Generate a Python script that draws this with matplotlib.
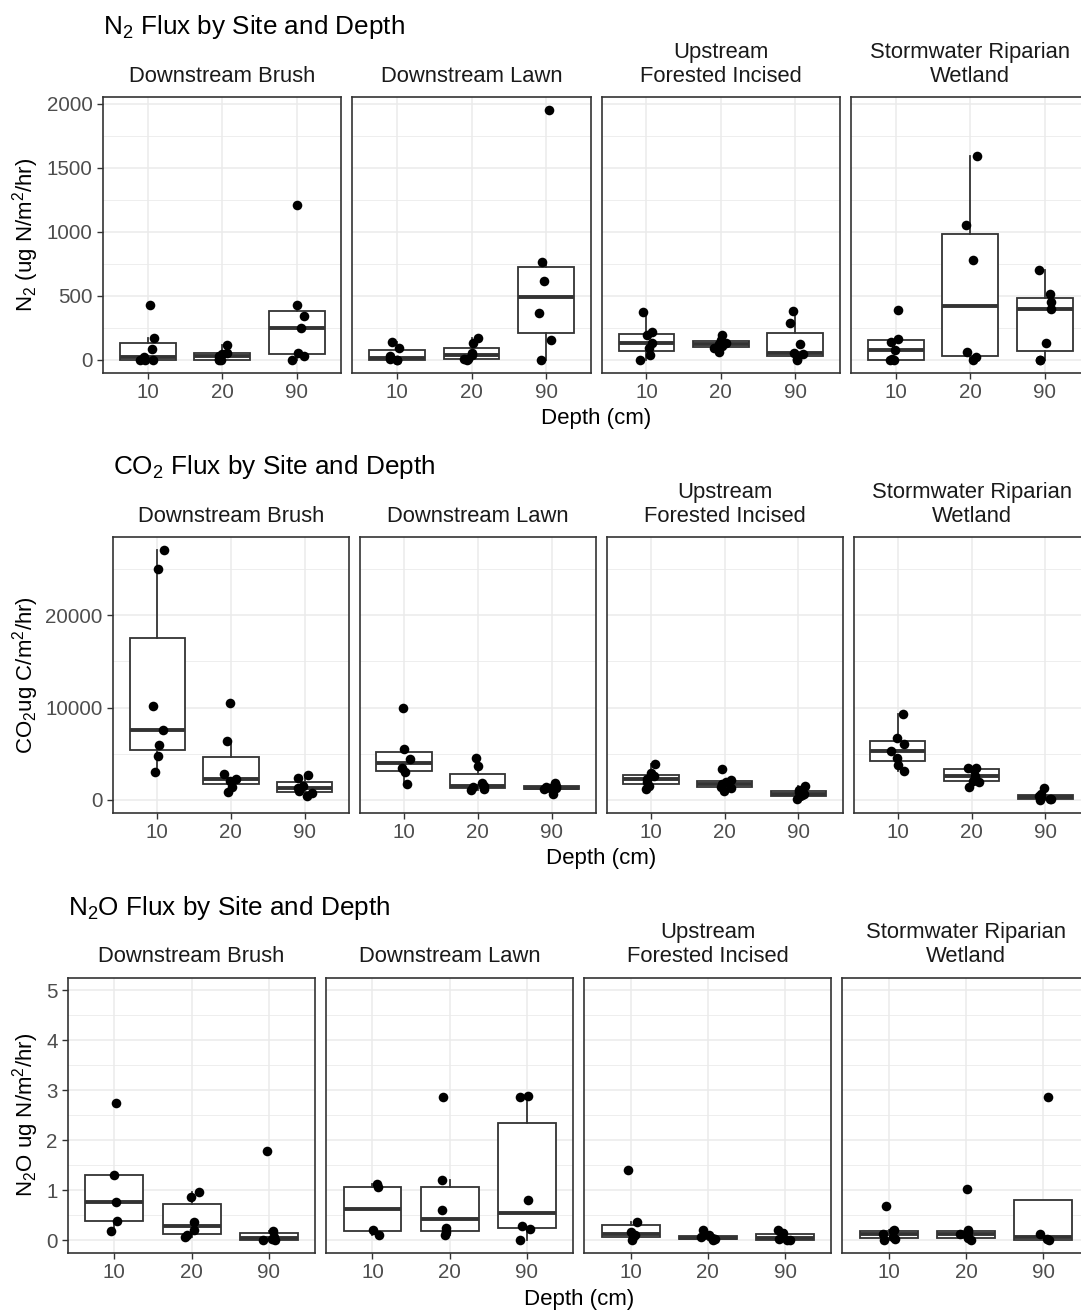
import numpy as np
import matplotlib.pyplot as plt

plt.rcParams['font.family'] = ['Liberation Sans', 'DejaVu Sans']
plt.rcParams['mathtext.default'] = 'regular'

sites = ["Downstream Brush", "Downstream Lawn",
         "Upstream\nForested Incised", "Stormwater Riparian\nWetland"]
depths = ["10", "20", "90"]

# N2 flux (ug N/m2/hr), one list per depth (10, 20, 90 cm)
n2_brush = [[430, 175, 89, 25, 3, 0, 0], [117, 57, 45, 30, 5, 0, 0],
            [1213, 430, 342, 248, 57, 31, 0]]
n2_lawn = [[143, 96, 30, 5, 0, 0], [175, 135, 57, 35, 10, 5, 0],
           [1956, 762, 618, 370, 156, 0]]
n2_upstream = [[376, 219, 193, 130, 96, 37, 0], [195, 155, 135, 125, 110, 95, 60],
               [383, 292, 123, 57, 45, 10, 0]]
n2_wetland = [[391, 167, 141, 78, 5, 0, 0], [1596, 1056, 782, 63, 20, 0],
              [704, 514, 449, 396, 136, 0, 0]]

# CO2 flux (ug C/m2/hr)
co2_brush = [[27128, 25030, 10128, 7596, 5968, 4775, 3074],
             [10489, 6438, 2785, 2279, 2100, 1447, 832],
             [2750, 2400, 1550, 1300, 1000, 800, 400]]
co2_lawn = [[9911, 5498, 4450, 3500, 3002, 1700],
            [4521, 3725, 1808, 1555, 1400, 1160, 1100],
            [1850, 1500, 1450, 1350, 1250, 1150, 700]]
co2_upstream = [[3870, 2894, 2604, 2243, 1990, 1555, 1157],
                [3364, 2170, 1917, 1700, 1447, 1266, 977],
                [1555, 1050, 850, 650, 500, 420, 72]]
co2_wetland = [[9332, 6691, 6040, 5317, 4594, 3798, 3183],
               [3500, 3436, 3300, 2604, 2098, 1917, 1447],
               [1338, 640, 450, 289, 100, 60, 0]]

# N2O flux (ug N/m2/hr)
n2o_brush = [[2.74, 1.31, 0.76, 0.385, 0.18], [0.96, 0.86, 0.365, 0.2, 0.1, 0.066],
             [1.79, 0.186, 0.06, 0.03, 0.005, 0.0]]
n2o_lawn = [[1.13, 1.06, 0.21, 0.1], [2.855, 1.21, 0.61, 0.245, 0.166, 0.1],
            [2.89, 2.855, 0.81, 0.285, 0.23, 0.01]]
n2o_upstream = [[1.41, 0.365, 0.166, 0.1, 0.06, 0.013], [0.2, 0.1, 0.06, 0.04, 0.02, 0.0],
                [0.21, 0.146, 0.07, 0.02, 0.0, 0.0]]
n2o_wetland = [[0.68, 0.2, 0.19, 0.12, 0.07, 0.03, 0.0], [1.03, 0.2, 0.17, 0.12, 0.06, 0.05, 0.0],
               [2.855, 0.13, 0.02, 0.0]]

W, H = 1081, 1310
fig = plt.figure(figsize=(W / 100, H / 100), dpi=100)

rows = [
    dict(title="N$_2$ Flux by Site and Depth", ylabel="N$_2$ (ug N/m$^2$/hr)",
         data=[n2_brush, n2_lawn, n2_upstream, n2_wetland], left=103, dy=0,
         ticks=[0, 500, 1000, 1500, 2000], minor=[250, 750, 1250, 1750], ylim=None),
    dict(title="CO$_2$ Flux by Site and Depth", ylabel="CO$_2$ug C/m$^2$/hr)",
         data=[co2_brush, co2_lawn, co2_upstream, co2_wetland], left=113, dy=440,
         ticks=[0, 10000, 20000], minor=[5000, 15000, 25000], ylim=None),
    dict(title="N$_2$O Flux by Site and Depth", ylabel="N$_2$O ug N/m$^2$/hr)",
         data=[n2o_brush, n2o_lawn, n2o_upstream, n2o_wetland], left=68, dy=880.5,
         ticks=[0, 1, 2, 3, 4, 5], minor=[0.5, 1.5, 2.5, 3.5, 4.5], ylim=(0, 5)),
]

right_edge = 1089.5
gap = 11
ptop, pbot = 97, 372.5
dark = '#333333'
grid_c = '#EBEBEB'
rng = np.random.default_rng(7)

for row in rows:
    left, dy = row['left'], row['dy']
    pw = (right_edge - left - 3 * gap) / 4
    ph = pbot - ptop
    if row['ylim'] is None:
        allv = [v for site in row['data'] for grp in site for v in grp]
        lo, hi = min(allv), max(allv)
    else:
        lo, hi = row['ylim']
    pad = 0.05 * (hi - lo)

    for i, (site, name) in enumerate(zip(row['data'], sites)):
        x0 = left + i * (pw + gap)
        ax = fig.add_axes([x0 / W, 1 - (dy + pbot) / H, pw / W, ph / H])
        ax.set_axisbelow(True)

        ax.boxplot(site, positions=[1, 2, 3], widths=0.75, whis=1.5,
                   showfliers=False, showcaps=False, patch_artist=True,
                   boxprops=dict(facecolor='white', edgecolor=dark, linewidth=1.3),
                   medianprops=dict(color=dark, linewidth=2.8),
                   whiskerprops=dict(color=dark, linewidth=1.3), zorder=2)
        for k, grp in enumerate(site):
            xs = k + 1 + rng.uniform(-0.1, 0.1, len(grp))
            ax.scatter(xs, grp, s=48, color='black', linewidths=0, zorder=3)

        ax.set_xlim(0.4, 3.6)
        ax.set_ylim(lo - pad, hi + pad)
        ax.set_xticks([1, 2, 3])
        ax.set_xticklabels(depths)
        ax.set_yticks(row['ticks'])
        ax.set_yticks(row['minor'], minor=True)
        ax.grid(which='major', color=grid_c, lw=1.1)
        ax.yaxis.grid(which='minor', color=grid_c, lw=0.6)
        ax.tick_params(which='minor', length=0)
        ax.tick_params(which='major', direction='out', length=4.3, width=1.0,
                       color=dark, labelcolor='#4D4D4D', labelsize=14.8, pad=3.2)
        if i > 0:
            ax.tick_params(axis='y', left=False, labelleft=False)
        for sp in ax.spines.values():
            sp.set_color(dark)
            sp.set_linewidth(1.2)

        fig.text((x0 + pw / 2) / W, 1 - (dy + ptop - 10) / H, name,
                 ha='center', va='bottom', fontsize=15.8, color='#1A1A1A',
                 linespacing=1.2)

    fig.text(left / W, 1 - (dy + 34) / H, row['title'], ha='left',
             va='baseline', fontsize=18.8, color='black')
    fig.text(26 / W, 1 - (dy + (ptop + pbot) / 2) / H, row['ylabel'],
             rotation=90, ha='center', va='center', fontsize=16, color='black')
    fig.text((left + right_edge) / 2 / W, 1 - (dy + 424) / H, 'Depth (cm)',
             ha='center', va='baseline', fontsize=16, color='black')

fig.savefig('out.png', dpi=100, facecolor='white')
